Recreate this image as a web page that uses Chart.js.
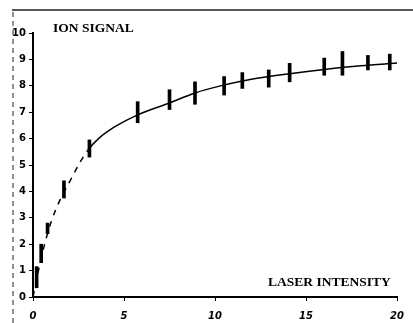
<!DOCTYPE html>
<html lang="en">
<head>
    <meta charset="UTF-8">
    <title>Ion Signal vs Laser Intensity</title>
    <script src="https://cdn.jsdelivr.net/npm/chart.js"></script>
    <style>
        html, body { margin: 0; padding: 0; background: #fff; }
        #wrap { width: 413px; height: 323px; }
    </style>
</head>
<body>
    <div id="wrap"><canvas id="ionChart"></canvas></div>
    <script>
        // measured spreads (ion signal range at each laser intensity)
        const measX  = [0.2, 0.45, 0.8, 1.7, 3.1, 5.75, 7.5, 8.9, 10.5, 11.5, 12.95, 14.1, 16.0, 17.0, 18.4, 19.6];
        const measLo = [0.35, 1.3, 2.4, 3.75, 5.3, 6.6, 7.1, 7.3, 7.65, 7.9, 7.95, 8.15, 8.4, 8.4, 8.6, 8.6];
        const measHi = [1.15, 2.0, 2.8, 4.4, 5.95, 7.4, 7.85, 8.15, 8.35, 8.5, 8.6, 8.85, 9.05, 9.3, 9.15, 9.2];

        // fitted curve
        const curveX = [0, 0.3, 0.6, 1, 1.5, 2, 2.5, 3, 3.6, 4.5, 5.75, 7.5, 8.9, 10.5, 12, 14, 16, 18, 20];
        const curveY = [0, 1.0, 1.9, 2.85, 3.7, 4.35, 5.0, 5.55, 6.0, 6.45, 6.9, 7.35, 7.73, 8.03, 8.25, 8.45, 8.62, 8.76, 8.86];

        const xTicks = [0, 5, 10, 15, 20];
        const yTicks = [0, 1, 2, 3, 4, 5, 6, 7, 8, 9, 10];

        const labelsPlugin = {
            id: 'labels',
            afterDraw(chart) {
                const c = chart.ctx;
                c.save();
                // scanned frame edges
                c.strokeStyle = '#222';
                c.lineWidth = 1.5;
                c.beginPath();
                c.moveTo(12, 10); c.lineTo(413, 10);
                c.stroke();
                c.lineWidth = 1;
                c.setLineDash([5, 4]);
                c.beginPath();
                c.moveTo(13, 12); c.lineTo(13, 323);
                c.stroke();
                c.setLineDash([]);
                c.fillStyle = '#000';
                c.font = 'bold 13.5px "Liberation Serif"';
                c.textBaseline = 'middle';
                c.fillText('ION SIGNAL', 53, 29);
                c.fillText('LASER INTENSITY', 268, 283);
                c.restore();
            }
        };

        const ctx = document.getElementById('ionChart').getContext('2d');
        new Chart(ctx, {
            data: {
                datasets: [
                    {
                        type: 'bar',
                        data: measX.map((x, i) => ({ x: x, y: [measLo[i], measHi[i]] })),
                        backgroundColor: '#000',
                        barThickness: 3,
                        order: 2
                    },
                    {
                        type: 'line',
                        data: curveX.map((x, i) => ({ x: x, y: curveY[i] })),
                        borderColor: '#000',
                        borderWidth: 1.5,
                        pointRadius: 0,
                        fill: false,
                        cubicInterpolationMode: 'monotone',
                        segment: {
                            borderDash: c => c.p1.parsed.x <= 3 ? [6, 6] : undefined
                        },
                        order: 1
                    }
                ]
            },
            options: {
                responsive: true,
                maintainAspectRatio: false,
                animation: false,
                layout: { padding: { top: 33, right: 11, left: 0, bottom: 0 } },
                plugins: { legend: { display: false }, tooltip: { enabled: false } },
                scales: {
                    x: {
                        type: 'linear',
                        min: 0,
                        max: 20,
                        offset: false,
                        afterBuildTicks: s => { s.ticks = xTicks.map(v => ({ value: v })); },
                        afterFit: s => { s.height = 26; },
                        grid: { drawOnChartArea: false, offset: false, color: '#000', tickLength: 4 },
                        border: { color: '#000', width: 2 },
                        ticks: {
                            color: '#000',
                            padding: 9,
                            font: { family: 'DejaVu Sans', size: 10, style: 'italic', weight: 'bold' }
                        }
                    },
                    y: {
                        min: 0,
                        max: 10,
                        afterBuildTicks: s => { s.ticks = yTicks.map(v => ({ value: v })); },
                        afterFit: s => { s.width = 33; },
                        grid: { drawOnChartArea: false, color: '#000', tickLength: 4 },
                        border: { color: '#000', width: 2 },
                        ticks: {
                            color: '#000',
                            padding: 3,
                            font: { family: 'DejaVu Sans', size: 10, weight: 'bold' }
                        }
                    }
                }
            },
            plugins: [labelsPlugin]
        });
    </script>
</body>
</html>
